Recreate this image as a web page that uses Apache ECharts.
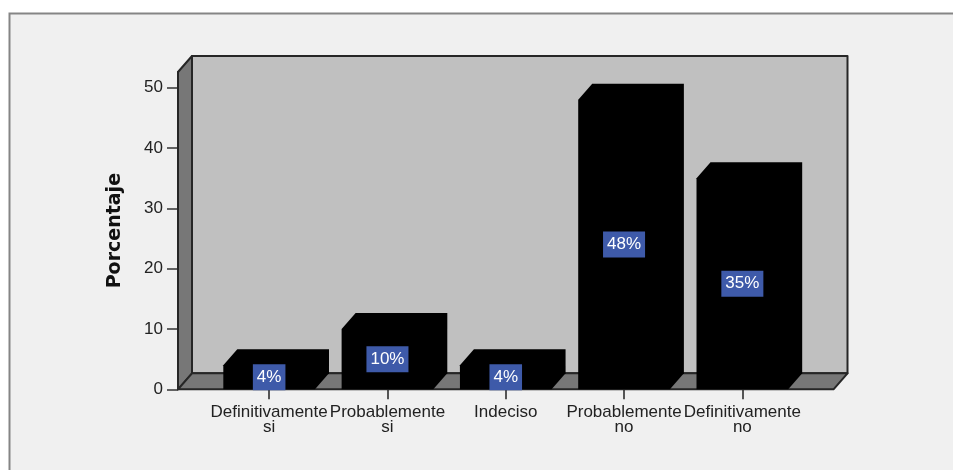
<!DOCTYPE html>
<html>
<head>
<meta charset="utf-8">
<script src="https://cdn.jsdelivr.net/npm/echarts@6/dist/echarts.min.js"></script>
<style>
  html, body { margin: 0; padding: 0; background: #ffffff; }
  #chart { width: 953px; height: 470px; }
</style>
</head>
<body>
<div id="chart"></div>
<script>
// Survey answers and the share of respondents (%) for each one
const categories = [
  'Definitivamente\nsi',
  'Probablemente\nsi',
  'Indeciso',
  'Probablemente\nno',
  'Definitivamente\nno'
];
const percentages = [4, 10, 4, 48, 35];
const yTicks = [0, 10, 20, 30, 40, 50];
const yMax = 52.6;

// 3D look: depth offset of boxes and walls, floor overhang, bar width share
const DX = 14, DY = 16;
const PAD = 32;
const BAR_RATIO = 0.775;
const FONT = '"Liberation Sans", Arial, sans-serif';

const chart = echarts.init(document.getElementById('chart'), null, { renderer: 'canvas' });

// Back wall, left side wall and floor around the plotting area
function renderWalls(params, api) {
  const cs = params.coordSys;
  const x0 = cs.x - PAD, x1 = cs.x + cs.width + PAD;
  const yTop = cs.y, yBase = cs.y + cs.height;
  const edge = { stroke: '#262626', lineWidth: 2, lineJoin: 'round' };
  return {
    type: 'group',
    children: [
      { type: 'polygon',
        shape: { points: [[x0 + DX, yTop - DY], [x1 + DX, yTop - DY], [x1 + DX, yBase - DY], [x0 + DX, yBase - DY]] },
        style: Object.assign({ fill: '#c0c0c0' }, edge) },
      { type: 'polygon',
        shape: { points: [[x0, yTop], [x0 + DX, yTop - DY], [x0 + DX, yBase - DY], [x0, yBase]] },
        style: Object.assign({ fill: '#777777' }, edge) },
      { type: 'polygon',
        shape: { points: [[x0, yBase], [x0 + DX, yBase - DY], [x1 + DX, yBase - DY], [x1, yBase]] },
        style: Object.assign({ fill: '#777777' }, edge) }
    ]
  };
}

// Solid black box with its value tag centred on the front face
function renderBar(params, api) {
  const idx = api.value(0), v = api.value(1);
  const top = api.coord([idx, v]);
  const base = api.coord([idx, 0]);
  const bw = api.size([1, 0])[0] * BAR_RATIO;
  const l = top[0] - bw / 2, r = top[0] + bw / 2;
  const yT = top[1], yB = base[1];
  return {
    type: 'group',
    children: [
      { type: 'polygon',
        shape: { points: [[l, yB], [l, yT], [l + DX, yT - DY], [r + DX, yT - DY], [r + DX, yB - DY], [r, yB]] },
        style: { fill: '#000000' } },
      { type: 'text', x: top[0], y: (yT + yB) / 2, z2: 10,
        style: {
          text: v + '%', fill: '#ffffff', font: '17px ' + FONT, lineHeight: 18,
          align: 'center', verticalAlign: 'middle',
          backgroundColor: '#3e5aa9', padding: [4, 4, 4, 4]
        } }
    ]
  };
}

chart.setOption({
  backgroundColor: '#ffffff',
  animation: false,
  graphic: [{
    type: 'rect', z: -10, silent: true,
    shape: { x: 9.5, y: 13.5, width: 1000, height: 500 },
    style: { fill: '#f0f0f0', stroke: '#858585', lineWidth: 2 }
  }],
  grid: { left: 210, right: 151.5, top: 72, bottom: 80.7 },
  xAxis: {
    type: 'category',
    data: categories,
    axisLine: { show: false },
    axisTick: { show: true, alignWithLabel: true, length: 10, lineStyle: { color: '#222', width: 1.5 } },
    axisLabel: { interval: 0, margin: 16, color: '#222', fontFamily: FONT, fontSize: 17, lineHeight: 15 },
    splitLine: { show: false }
  },
  yAxis: {
    type: 'value',
    min: 0, max: yMax,
    offset: PAD,
    name: 'Porcentaje',
    nameLocation: 'middle',
    nameRotate: 90,
    nameGap: 53,
    nameTextStyle: { color: '#111', fontFamily: '"DejaVu Sans", sans-serif', fontWeight: 'bold', fontSize: 19 },
    axisLine: { show: true, lineStyle: { color: '#262626', width: 2 } },
    axisTick: { show: true, length: 11, customValues: yTicks, lineStyle: { color: '#333', width: 1.5 } },
    axisLabel: { customValues: yTicks, margin: 15, color: '#222', fontFamily: FONT, fontSize: 17 },
    splitLine: { show: false }
  },
  series: [
    {
      type: 'custom', name: 'walls', z: 1, clip: false, silent: true,
      data: [[0, 0]],
      renderItem: renderWalls
    },
    {
      type: 'custom', name: 'Porcentaje', z: 2, clip: false,
      data: percentages.map((v, i) => [i, v]),
      encode: { x: 0, y: 1 },
      renderItem: renderBar
    }
  ]
});
</script>
</body>
</html>
